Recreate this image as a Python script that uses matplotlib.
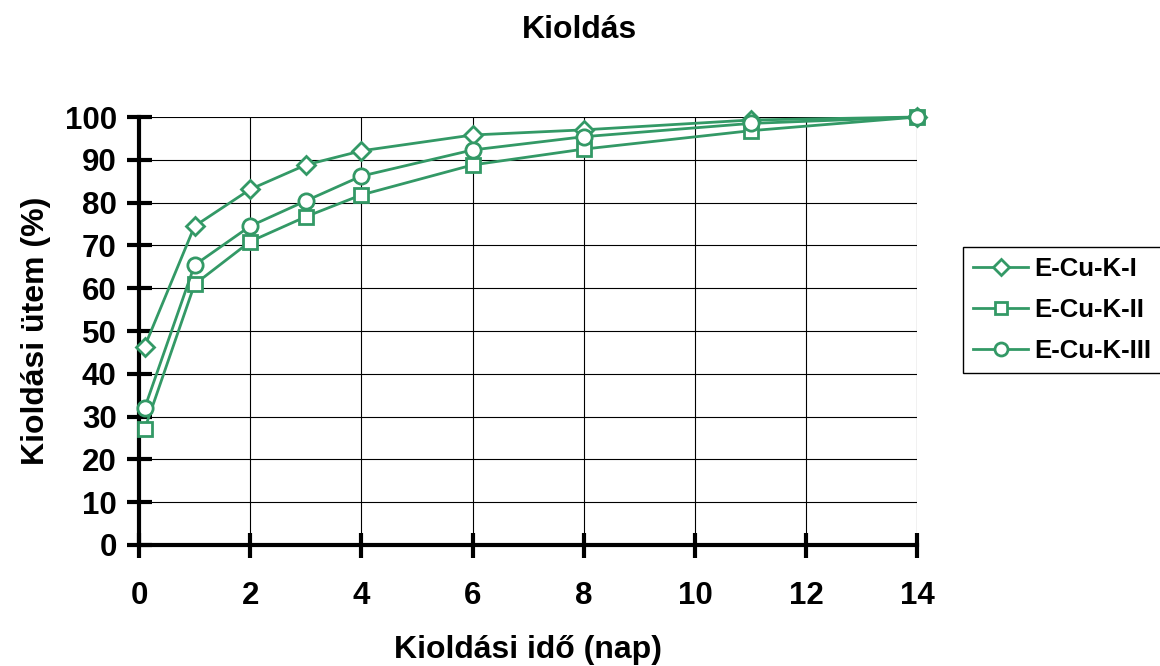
import numpy as np
import matplotlib
matplotlib.use("Agg")
import matplotlib.pyplot as plt

plt.rcParams['font.family'] = ['Liberation Sans', 'DejaVu Sans']

# kioldasi ido (nap) es kioldasi utem (%)
days = [0.1, 1, 2, 3, 4, 6, 8, 11, 14]
e_cu_k_1 = [46.3, 74.5, 83.1, 88.8, 92.1, 95.8, 97.0, 99.3, 100]
e_cu_k_2 = [27.0, 60.9, 70.9, 76.7, 81.8, 88.8, 92.5, 96.8, 100]
e_cu_k_3 = [31.9, 65.4, 74.5, 80.4, 86.2, 92.3, 95.4, 98.5, 100]
series_names = ['E-Cu-K-I', 'E-Cu-K-II', 'E-Cu-K-III']
x_ticks = [0, 2, 4, 6, 8, 10, 12, 14]
y_ticks = [0, 10, 20, 30, 40, 50, 60, 70, 80, 90, 100]

green = '#339966'

fig = plt.figure(figsize=(11.6, 6.66), dpi=100)
ax = fig.add_axes([0.1198, 0.1817, 0.671, 0.6426])

markers = ['D', 's', 'o']
msizes = [9.5, 10.5, 11]
for vals, name, mk, ms in zip([e_cu_k_1, e_cu_k_2, e_cu_k_3], series_names, markers, msizes):
    ax.plot(days, vals, color=green, lw=2.0, marker=mk, ms=ms,
            mfc='white', mec=green, mew=2.0, label=name, clip_on=False, zorder=3)

ax.set_xlim(0, 14)
ax.set_ylim(0, 100)
ax.set_xticks(x_ticks)
ax.set_yticks(y_ticks)
ax.grid(True, color='black', lw=0.8)

for s in ['top', 'right']:
    ax.spines[s].set_visible(False)
for s in ['left', 'bottom']:
    ax.spines[s].set_linewidth(3)
ax.tick_params(direction='inout', length=18, width=3, labelsize=22.5)
ax.tick_params(axis='x', pad=17)
ax.tick_params(axis='y', pad=7)
for lab in ax.get_xticklabels() + ax.get_yticklabels():
    lab.set_fontweight('bold')

# title centred on the whole figure, like the original
fig.text(0.5, 1 - 30 / 666, 'Kioldás', fontsize=23, fontweight='bold', ha='center', va='center')
ax.set_xlabel('Kioldási idő (nap)', fontsize=23, fontweight='bold', labelpad=17)
ax.set_ylabel('Kioldási ütem (%)', fontsize=23, fontweight='bold', labelpad=10)

leg = ax.legend(loc='center left', bbox_to_anchor=(0.830, 0.5345), bbox_transform=fig.transFigure,
                fancybox=False, edgecolor='black', framealpha=1, borderpad=0.4,
                borderaxespad=0, handlelength=2.15, handletextpad=0.25, labelspacing=0.65,
                markerscale=0.85, prop={'weight': 'bold', 'size': 18.5})
leg.get_frame().set_linewidth(1.0)

fig.savefig('out.png', dpi=100)
